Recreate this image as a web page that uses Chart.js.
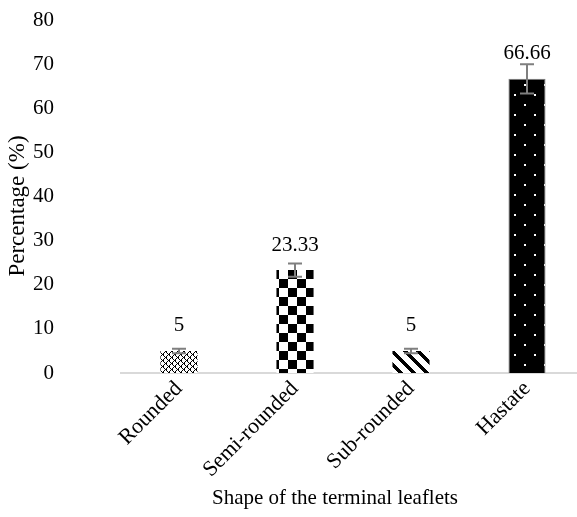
<!DOCTYPE html>
<html>
<head>
<meta charset="utf-8">
<script src="https://cdn.jsdelivr.net/npm/chart.js@4.4.1/dist/chart.umd.min.js"></script>
<style>
  html, body { margin: 0; padding: 0; background: #fff; overflow: hidden; }
  #wrap { position: relative; width: 600px; height: 517px; }
</style>
</head>
<body>
<div id="wrap"><canvas id="c"></canvas></div>
<script>
// Shape of the terminal leaflets (percentage of accessions)
const categories = ['Rounded', 'Semi-rounded', 'Sub-rounded', 'Hastate'];
const percentages = [5, 23.33, 5, 66.66];
const errors = [0.5, 1.5, 0.5, 3.33];
const yTickValues = [0, 10, 20, 30, 40, 50, 60, 70, 80];
const xTitle = 'Shape of the terminal leaflets';
const yTitle = 'Percentage (%)';

const FONT = "'Liberation Serif', 'Times New Roman', serif";

// Build a repeating fill from a per-pixel rule
function makePattern(w, h, bg, fg, rule) {
  const cv = document.createElement('canvas');
  cv.width = w; cv.height = h;
  const g = cv.getContext('2d');
  g.fillStyle = bg; g.fillRect(0, 0, w, h);
  g.fillStyle = fg;
  for (let y = 0; y < h; y++)
    for (let x = 0; x < w; x++)
      if (rule(x, y)) g.fillRect(x, y, 1, 1);
  return g.createPattern(cv, 'repeat');
}

const ctx = document.getElementById('c').getContext('2d');

// dotted diamond lattice
const fillRounded = makePattern(6, 6, '#fff', '#000', (x, y) =>
  ((x + y) % 6 === 0 || ((x - y + 6) % 6 === 0)) || ((x + y) % 6 === 1 && (x - y + 6) % 6 === 1));
// large checkerboard
const fillSemi = makePattern(18, 18, '#fff', '#000', (x, y) => ((Math.floor(x / 9) + Math.floor(y / 9)) % 2) === 0);
// wide downward diagonal stripes
const fillSub = makePattern(13, 13, '#fff', '#000', (x, y) => ((x - y + 13) % 13) < 5);
// black with white dots
const fillHastate = makePattern(20, 20, '#000', '#fff', (x, y) =>
  ((x >= 4 && x <= 5 && y >= 4 && y <= 5) || (x >= 14 && x <= 15 && y >= 14 && y <= 15)));

const errorBars = {
  id: 'errorBars',
  afterDatasetsDraw(chart) {
    const meta = chart.getDatasetMeta(0);
    const ys = chart.scales.y;
    const g = chart.ctx;
    g.save();
    g.strokeStyle = '#7f7f7f';
    g.lineWidth = 2;
    meta.data.forEach((bar, i) => {
      const v = percentages[i], e = errors[i];
      const yTop = ys.getPixelForValue(v + e);
      const yBot = ys.getPixelForValue(v - e);
      const x = bar.x;
      g.beginPath();
      g.moveTo(x, yTop); g.lineTo(x, yBot);
      g.moveTo(x - 7, yTop); g.lineTo(x + 7, yTop);
      g.moveTo(x - 7, yBot); g.lineTo(x + 7, yBot);
      g.stroke();
    });
    g.restore();
  }
};

const valueLabels = {
  id: 'valueLabels',
  afterDatasetsDraw(chart) {
    const meta = chart.getDatasetMeta(0);
    const g = chart.ctx;
    g.save();
    g.font = '21px ' + FONT;
    g.fillStyle = '#000';
    g.textAlign = 'center';
    g.textBaseline = 'middle';
    meta.data.forEach((bar, i) => {
      g.fillText(String(percentages[i]), bar.x, bar.y - 25);
    });
    g.restore();
  }
};

// Axis titles drawn in the margins
const axisTitles = {
  id: 'axisTitles',
  afterDraw(chart) {
    const g = chart.ctx;
    const area = chart.chartArea;
    g.save();
    g.fillStyle = '#000';
    g.textAlign = 'center';
    g.textBaseline = 'middle';
    g.font = '21px ' + FONT;
    g.fillText(xTitle, area.left + 214, chart.height - 19);
    g.translate(18, area.top + 186);
    g.rotate(-Math.PI / 2);
    g.font = '23px ' + FONT;
    g.fillText(yTitle, 0, 0);
    g.restore();
  }
};

new Chart(ctx, {
  type: 'bar',
  data: {
    labels: categories,
    datasets: [{
      data: percentages,
      backgroundColor: [fillRounded, fillSemi, fillSub, fillHastate],
      borderColor: ['rgba(0,0,0,0)', 'rgba(0,0,0,0)', 'rgba(0,0,0,0)', '#7f7f7f'],
      borderWidth: [0, 0, 0, 1],
      categoryPercentage: 1,
      barPercentage: 0.32
    }]
  },
  options: {
    responsive: true,
    maintainAspectRatio: false,
    animation: false,
    layout: { padding: { left: 0, top: 20, right: 15, bottom: 0 } },
    plugins: { legend: { display: false }, tooltip: { enabled: false } },
    scales: {
      x: {
        grid: { display: false, drawTicks: false },
        border: { display: true, color: '#d9d9d9', width: 2 },
        ticks: {
          font: { family: FONT, size: 22 },
          color: '#000',
          minRotation: 45,
          maxRotation: 45,
          padding: 3
        },
        title: { display: false },
        afterFit(scale) { scale.height = 144; }
      },
      y: {
        min: 0,
        max: 80,
        afterBuildTicks(scale) { scale.ticks = yTickValues.map(v => ({ value: v })); },
        // invisible tick marks keep the labels clear of the plot area
        grid: { display: false, drawTicks: true, tickLength: 62 },
        border: { display: false },
        ticks: {
          font: { family: FONT, size: 21 },
          color: '#000',
          padding: 5
        },
        title: { display: false },
        afterFit(scale) { scale.width = 121; }
      }
    }
  },
  plugins: [errorBars, valueLabels, axisTitles]
});
</script>
</body>
</html>
